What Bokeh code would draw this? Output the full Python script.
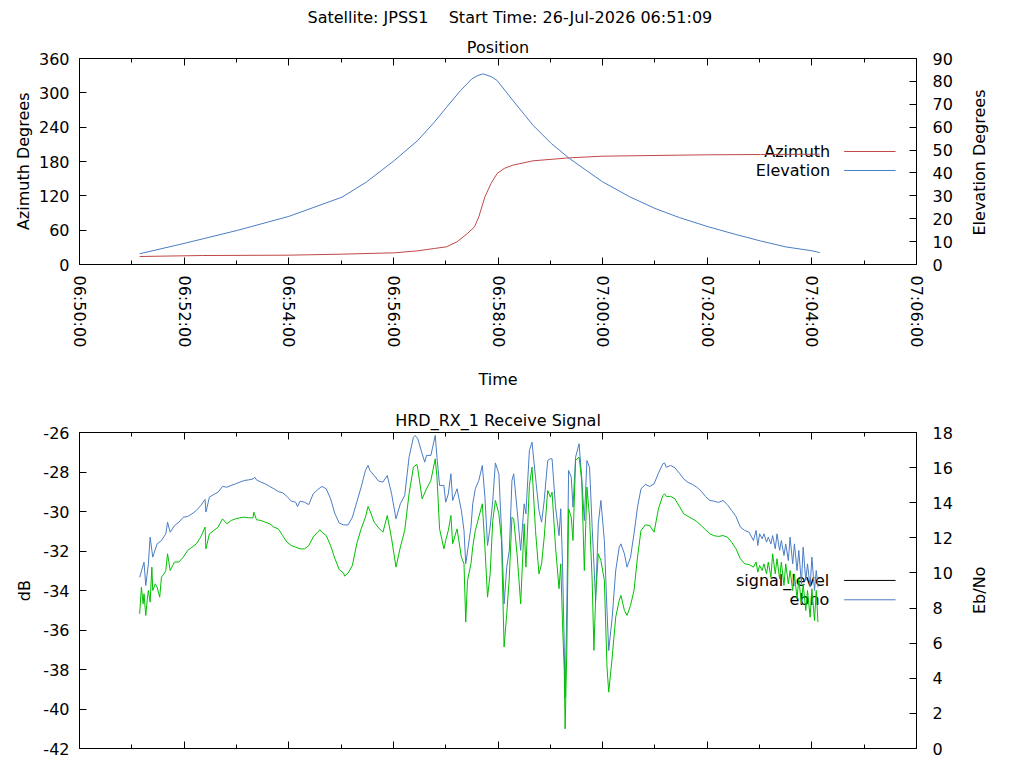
import math
from datetime import datetime, timedelta

from bokeh.core.properties import value
from bokeh.embed import file_html
from bokeh.layouts import column
from bokeh.models import (CustomJSTickFormatter, DatetimeAxis, DatetimeTickFormatter,
                          FixedTicker, LinearAxis, PrintfTickFormatter,
                          Range1d, Title)
from bokeh.plotting import figure
from bokeh.resources import INLINE

FONT = "DejaVu Sans"
FS = "16px"

satellite = "JPSS1"
start_time = "26-Jul-2026 06:51:09"
antenna = "HRD_RX_1"

# all times are seconds after 06:50:00
el_sec = [69, 121, 181, 240, 301, 329, 361, 388, 407, 421, 437, 450, 457, 463,
          472, 479, 497, 520, 541, 562, 600, 631, 660, 688, 721, 751, 781, 810,
          840, 849]
elevation = [4.7, 9.3, 14.9, 21.0, 29.4, 36.0, 45.4, 54.2, 62.2, 68.7, 76.0,
             81.1, 82.6, 83.3, 82.1, 80.4, 71.7, 60.9, 52.9, 46.3, 36.1, 29.6,
             24.5, 20.5, 16.5, 13.3, 10.3, 7.7, 6.0, 5.2]

az_sec = [69, 141, 240, 301, 361, 388, 407, 421, 433, 445, 453, 458, 465, 472,
          479, 487, 497, 520, 562, 600, 660, 721, 781, 849]
azimuth = [14.0, 15.7, 16.3, 18.1, 20.4, 23.9, 28.0, 30.9, 39.6, 54.2, 65.8,
           83.3, 118.3, 141.6, 159.0, 167.8, 173.6, 181.2, 186.4, 189.3, 190.5,
           191.7, 192.2, 192.8]

sig_sec = [69, 74, 76, 79, 81, 84, 89, 94, 99, 101, 104, 109, 114, 119, 124,
           129, 134, 139, 144, 145, 149, 154, 159, 164, 169, 174, 179, 184, 189,
           194, 199, 201, 203, 208, 213, 218, 223, 228, 233, 238, 243, 248, 250,
           253, 258, 263, 268, 273, 278, 283, 288, 293, 298, 303, 308, 313, 318,
           323, 328, 331, 333, 338, 343, 348, 353, 358, 363, 368, 373, 378, 383,
           385, 388, 393, 396, 398, 403, 408, 410, 413, 418, 420, 423, 426, 428,
           433, 438, 441, 443, 449, 451, 454, 458, 462, 465, 468, 471, 474, 477,
           481, 484, 487, 490, 493, 496, 498, 502, 506, 510, 512, 516, 519, 523,
           527, 530, 533, 537, 540, 542, 546, 550, 552, 554, 556, 557, 559, 561,
           564, 566, 569, 573, 576, 579, 582, 585, 588, 592, 595, 598, 602, 605,
           607, 611, 615, 619, 621, 625, 628, 632, 636, 640, 644, 649, 654, 659,
           664, 669, 671, 673, 678, 683, 688, 693, 698, 703, 708, 713, 718, 723,
           728, 733, 738, 743, 748, 753, 758, 763, 768, 773, 776, 778, 780, 783,
           785, 788, 790, 793, 795, 798, 800, 803, 805, 808, 810, 813, 815, 818,
           820, 823, 825, 828, 830, 833, 835, 838, 840, 843, 845, 847]
signal_level = [-33.33, -32.57, -33.75, -32.65, -31.30, -32.31, -31.64, -31.47,
                -31.13, -30.54, -31.05, -30.71, -30.54, -30.29, -30.25, -30.12,
                -29.95, -29.70, -29.39, -30.03, -29.27, -29.14, -29.02, -28.73,
                -28.77, -28.68, -28.60, -28.51, -28.43, -28.40, -28.35, -28.26,
                -28.40, -28.51, -28.60, -28.73, -28.85, -28.99, -29.05, -29.24,
                -29.48, -29.53, -29.75, -29.48, -29.53, -29.65, -29.11, -28.90,
                -28.73, -28.85, -29.36, -30.12, -30.59, -30.68, -30.68, -30.29,
                -29.53, -28.77, -27.92, -27.67, -27.92, -28.18, -28.46, -28.51,
                -28.18, -29.11, -30.37, -29.61, -29.19, -27.25, -26.24, -26.15,
                -26.32, -27.08, -27.50, -27.16, -27.16, -26.15, -27.25, -28.68,
                -28.68, -29.53, -29.11, -28.09, -29.44, -28.85, -29.95, -30.96,
                -32.65, -30.79, -29.61, -28.85, -28.43, -27.67, -29.27, -31.72,
                -30.79, -29.44, -27.54, -28.09, -30.96, -34.68, -32.82, -31.97,
                -28.43, -28.09, -29.95, -31.97, -29.61, -30.12, -26.91, -26.49,
                -28.26, -29.95, -30.54, -29.44, -27.42, -27.33, -27.33, -29.78,
                -31.22, -29.86, -32.65, -36.87, -39.40, -34.68, -27.92, -28.26,
                -29.78, -27.25, -26.57, -28.26, -30.46, -27.42, -27.76, -30.79,
                -34.51, -30.62, -29.44, -31.47, -35.01, -37.04, -35.35, -32.99,
                -31.81, -31.64, -32.14, -32.82, -32.31, -31.13, -29.78, -28.85,
                -28.63, -28.73, -28.60, -28.06, -27.59, -27.54, -27.76, -27.67,
                -27.79, -28.06, -28.35, -28.53, -28.63, -28.77, -28.97, -29.24,
                -29.44, -29.48, -29.54, -29.44, -29.65, -29.95, -30.25, -30.79,
                -30.96, -31.05, -31.47, -30.96, -31.72, -31.13, -31.38, -31.13,
                -31.55, -31.30, -31.64, -31.22, -31.89, -31.13, -31.97, -31.47,
                -32.23, -31.64, -32.48, -31.30, -32.65, -31.64, -32.99, -31.97,
                -33.66, -31.81, -33.49, -32.65, -33.83, -32.31, -34.00, -32.99,
                -33.83]

ebno_sec = [69, 71, 73, 74, 76, 78, 79, 81, 83, 84, 87, 89, 92, 94, 97, 99,
            101, 104, 109, 114, 119, 124, 129, 134, 139, 144, 145, 149, 154,
            159, 164, 169, 174, 179, 184, 189, 194, 199, 200, 203, 208, 213,
            218, 223, 228, 233, 238, 243, 248, 253, 258, 263, 268, 273, 276,
            278, 283, 288, 293, 298, 303, 304, 308, 313, 318, 323, 328, 331,
            333, 338, 343, 348, 353, 358, 363, 368, 373, 378, 383, 387, 388,
            393, 398, 403, 408, 410, 413, 418, 420, 423, 426, 428, 433, 438,
            441, 443, 445, 449, 451, 454, 458, 462, 465, 468, 471, 474, 477,
            481, 484, 487, 490, 493, 496, 498, 502, 506, 510, 512, 516, 519,
            523, 527, 530, 533, 537, 540, 542, 546, 550, 552, 554, 556, 557,
            559, 561, 564, 566, 569, 573, 576, 579, 582, 585, 588, 590, 592,
            595, 598, 602, 605, 607, 611, 615, 619, 621, 625, 628, 632, 636,
            640, 644, 649, 654, 659, 664, 669, 671, 673, 678, 683, 688, 693,
            698, 703, 708, 713, 718, 723, 728, 733, 738, 743, 748, 753, 758,
            763, 768, 773, 776, 778, 780, 783, 785, 788, 790, 793, 795, 798,
            800, 803, 805, 808, 810, 813, 815, 818, 820, 823, 825, 828, 830,
            833, 835, 838, 840, 843, 845, 847]
ebno = [7.67, 9.19, 8.24, 8.81, 7.58, 8.62, 9.00, 8.34, 10.33, 9.00, 9.38, 9.19,
        8.62, 9.76, 9.95, 10.14, 11.09, 10.14, 10.62, 10.62, 10.90, 11.28,
        11.47, 11.66, 12.04, 12.61, 11.37, 12.23, 12.42, 12.61, 13.08, 12.80,
        12.99, 13.08, 13.14, 13.18, 13.14, 13.14, 13.46, 13.03, 12.99, 12.89,
        12.80, 12.61, 12.51, 12.13, 11.75, 11.56, 11.47, 11.37, 11.37, 11.56,
        12.04, 12.32, 12.46, 12.32, 12.13, 11.56, 10.81, 10.18, 9.99, 9.82,
        9.99, 10.43, 11.66, 12.51, 13.18, 13.79, 13.56, 12.89, 12.57, 12.32,
        13.27, 11.94, 10.33, 11.47, 12.42, 14.51, 16.03, 16.18, 15.93, 14.22,
        14.79, 15.27, 16.50, 15.46, 12.51, 11.37, 11.85, 12.42, 13.27, 11.66,
        12.51, 10.90, 10.52, 7.20, 9.57, 10.52, 11.47, 12.42, 13.18, 13.94,
        11.47, 8.62, 9.95, 12.99, 14.13, 13.37, 11.85, 5.78, 7.67, 9.76, 13.18,
        13.08, 11.00, 8.24, 12.80, 10.33, 14.98, 16.03, 12.42, 9.95, 10.52,
        12.04, 14.70, 14.32, 14.60, 11.47, 9.10, 10.52, 7.10, 4.45, 1.12, 5.78,
        13.65, 13.18, 11.85, 16.41, 16.60, 15.27, 10.14, 14.89, 13.18, 9.57,
        5.59, 8.62, 11.09, 10.71, 9.57, 4.64, 3.21, 5.21, 7.48, 8.43, 8.72,
        7.86, 7.58, 8.15, 9.00, 10.90, 12.42, 12.74, 12.70, 12.32, 13.65,
        14.41, 14.51, 14.36, 14.36, 14.22, 13.79, 13.37, 13.22, 13.08, 12.93,
        12.70, 12.46, 12.23, 12.12, 12.08, 12.13, 12.04, 11.75, 11.37, 10.81,
        10.52, 10.48, 10.33, 10.62, 10.05, 10.43, 10.14, 10.52, 9.95, 10.62,
        9.76, 11.09, 9.95, 10.81, 9.67, 10.62, 9.29, 10.52, 9.38, 10.14, 9.00,
        9.95, 8.53, 9.67, 8.24, 9.38, 7.86, 9.00, 7.48, 9.10, 7.29, 9.00, 7.20]

az_ticks = [0, 60, 120, 180, 240, 300, 360]
el_ticks = [0, 10, 20, 30, 40, 50, 60, 70, 80, 90]
db_ticks = [-42, -40, -38, -36, -34, -32, -30, -28, -26]
ebno_ticks = [0, 2, 4, 6, 8, 10, 12, 14, 16, 18]

RED = "#c04848"
BLUE = "#4a7dc4"
GREEN = "#00c000"

t0 = datetime(2026, 7, 26, 6, 50, 0)
t1 = t0 + timedelta(minutes=16)
EPOCH = datetime(1970, 1, 1)

W = 1024
FRAME_W = 837  # 79 px left border, 108 px right border


def ms(dt):
    return (dt - EPOCH).total_seconds() * 1000.0


def times(secs):
    return [t0 + timedelta(seconds=s) for s in secs]


major_t = [ms(t0 + timedelta(minutes=m)) for m in range(0, 17, 2)]
minor_t = [ms(t0 + timedelta(minutes=m)) for m in range(1, 17, 2)]
fmt = "%H:%M:%S"


def time_ticker():
    return FixedTicker(ticks=major_t, minor_ticks=minor_t)


def time_formatter():
    return DatetimeTickFormatter(seconds=fmt, minsec=fmt, minutes=fmt,
                                 hourmin=fmt, hours=fmt,
                                 strip_leading_zeros=False)


def style_axis(ax):
    ax.axis_line_color = None
    ax.major_tick_in = 7
    ax.major_tick_out = 0
    ax.minor_tick_in = 4
    ax.minor_tick_out = 0
    ax.major_tick_line_color = "black"
    ax.minor_tick_line_color = "black"
    ax.major_label_text_font = FONT
    ax.major_label_text_font_size = FS
    ax.major_label_text_color = "black"
    ax.axis_label_text_font = FONT
    ax.axis_label_text_font_size = FS
    ax.axis_label_text_font_style = "normal"
    ax.axis_label_text_color = "black"


def no_labels(ax):
    ax.formatter = CustomJSTickFormatter(code="return ''")
    ax.major_label_standoff = 0


def side_label(p, side, name, label, lo, hi, frame_h, text_px, standoff):
    # gnuplot writes both y labels bottom-to-top and centred on the frame.
    # The label is a lone rotated tick label of an outer blank axis; on the
    # right it starts at the tick, on the left it ends there.
    half = (text_px / 2) / frame_h * (hi - lo)
    mid = (lo + hi) / 2
    at = mid - half if side == "right" else mid + half
    lab = LinearAxis(y_range_name=name, ticker=FixedTicker(ticks=[at]),
                     formatter=CustomJSTickFormatter(code="return %r" % label))
    style_axis(lab)
    lab.major_tick_in = 0
    lab.minor_tick_in = 0
    lab.major_label_orientation = math.pi / 2
    lab.major_label_standoff = standoff
    p.add_layout(lab, side)


def make_fig(height, top, bottom, y_range):
    p = figure(width=W, height=height, x_axis_type="datetime",
               x_range=Range1d(t0, t1), y_range=y_range, title=None,
               output_backend="svg", toolbar_location=None,
               min_border_left=79, min_border_right=W - 79 - FRAME_W,
               min_border_top=top, min_border_bottom=bottom)
    p.grid.visible = False
    p.outline_line_color = "black"
    p.outline_line_width = 1
    p.background_fill_color = "white"
    p.border_fill_color = "white"
    # mirror tics on the top border
    top_ax = DatetimeAxis(ticker=time_ticker())
    style_axis(top_ax)
    no_labels(top_ax)
    p.add_layout(top_ax, "above")
    xa = p.below[0]
    xa.ticker = time_ticker()
    xa.formatter = time_formatter()
    style_axis(xa)
    ya = p.left[0]
    style_axis(ya)
    ya.major_label_standoff = 10
    return p


def right_axis(p, name, ticks):
    ax = LinearAxis(y_range_name=name, ticker=FixedTicker(ticks=ticks))
    style_axis(ax)
    ax.major_label_standoff = 16
    p.add_layout(ax, "right")
    return ax


def add_title(p, text, **kw):
    t = Title(text=text, text_font=FONT, text_font_size=FS,
              text_font_style="normal", text_color="black", **kw)
    p.add_layout(t, "above")


# ---- position plot
H1 = 400
p1 = make_fig(H1, 58, H1 - 264, Range1d(0, 360))
p1.extra_y_ranges = {"el": Range1d(0, 90)}
add_title(p1, "Position", align="center", standoff=4)
add_title(p1, "Satellite: " + satellite + "\u00a0\u00a0\u00a0\u00a0Start Time: " + start_time,
          align="left", offset=228, vertical_align="top", standoff=9)

xa = p1.below[0]
xa.axis_label = "Time"
xa.major_label_orientation = -math.pi / 2
xa.major_label_standoff = 11
xa.axis_label_standoff = 20

p1.left[0].ticker = FixedTicker(ticks=az_ticks)
side_label(p1, "left", "default", "Azimuth Degrees", 0, 360, 206, 138, 12)
right_axis(p1, "el", el_ticks)
side_label(p1, "right", "el", "Elevation Degrees", 0, 90, 206, 148, 24)

# key
p1.text(x=[t0 + timedelta(seconds=861)] * 2, y=[197.5, 164.3],
        text=["Azimuth", "Elevation"], text_align="right",
        text_baseline="middle", text_font=value(FONT),
        text_font_size=value(FS), text_color="black")
p1.segment(x0=[t0 + timedelta(seconds=877)] * 2, y0=[197.5, 164.3],
           x1=[t0 + timedelta(seconds=936)] * 2, y1=[197.5, 164.3],
           line_color=[RED, BLUE], line_width=1)

p1.line(times(az_sec), azimuth, line_color=RED, line_width=1)
p1.line(times(el_sec), elevation, line_color=BLUE, line_width=1,
        y_range_name="el")

# ---- receive signal plot
H2 = 768 - H1
p2 = make_fig(H2, 432 - H1, 20, Range1d(-42, -26))
p2.extra_y_ranges = {"ebno": Range1d(0, 18)}
add_title(p2, antenna + " Receive Signal", align="center", standoff=6)

no_labels(p2.below[0])

yb = p2.left[0]
yb.ticker = FixedTicker(ticks=db_ticks)
yb.formatter = PrintfTickFormatter(format="%d")
side_label(p2, "left", "default", "dB", -42, -26, 316, 21, 16)
right_axis(p2, "ebno", ebno_ticks)
side_label(p2, "right", "ebno", "Eb/No", 0, 18, 316, 47, 24)

p2.text(x=[t0 + timedelta(seconds=860)] * 2, y=[-33.49, -34.47],
        text=["signal_level", "ebno"], text_align="right",
        text_baseline="middle", text_font=value(FONT),
        text_font_size=value(FS), text_color="black")
p2.segment(x0=[t0 + timedelta(seconds=877)] * 2, y0=[-33.49, -34.47],
           x1=[t0 + timedelta(seconds=936)] * 2, y1=[-33.49, -34.47],
           line_color=["black", BLUE], line_width=1)

p2.line(times(sig_sec), signal_level, line_color=BLUE, line_width=1)
p2.line(times(ebno_sec), ebno, line_color=GREEN, line_width=1,
        y_range_name="ebno")

layout = column(p1, p2, spacing=0)
open("out.html", "w").write(file_html(layout, INLINE))
